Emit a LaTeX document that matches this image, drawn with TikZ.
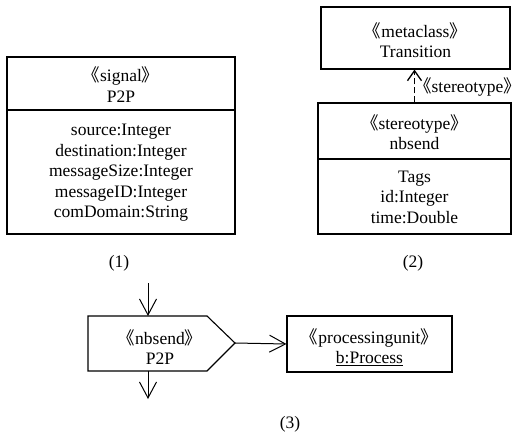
\documentclass[tikz,border=0pt]{standalone}
\usepackage{fontspec}
\setmainfont{Liberation Serif}
\newfontfamily\cjk{Noto Sans CJK SC}
\usetikzlibrary{arrows.meta}
\newcommand{\myopen}{{\cjk 《}}
\newcommand{\myclose}{{\cjk 》}}
\begin{document}
\begin{tikzpicture}[x=1pt,y=-1pt,
  font=\fontsize{17.5}{20.5}\selectfont,
  line width=1pt,
  box/.style={draw, line width=1.1pt, inner sep=0pt},
  txt/.style={inner sep=0pt, align=center},
  arr/.style={-{Straight Barb[length=16pt,width=17pt]}},
  dasharr/.style={-{Straight Barb[length=10pt,width=14pt]}, line width=1.3pt, dash pattern=on 6pt off 3pt}]
\useasboundingbox (0,0) rectangle (522,436);
% (1) signal
\node[box, minimum width=228pt, minimum height=177pt] (sig) at (121,145.5) {};
\draw[line width=1.1pt] (7,110) -- (235,110);
\node[txt] (sigh) at (121,84.5) {\myopen signal\myclose\\P2P};
\node[txt] (sigb) at (121,173) {source:Integer\\destination:Integer\\messageSize:Integer\\messageID:Integer\\comDomain:String};
\node[txt] (l1) at (119,263) {(1)};
% (2) stereotype
\node[box, minimum width=189pt, minimum height=62pt] (meta) at (415.5,38) {};
\node[txt] (metat) at (415.5,40) {\myopen metaclass\myclose\\Transition};
\node[box, minimum width=193pt, minimum height=131pt] (st) at (414.5,168.5) {};
\draw[line width=1.1pt] (318,159) -- (511,159);
\node[txt] (sth) at (414.5,132) {\myopen stereotype\myclose\\nbsend};
\node[txt] (stb) at (414.5,197) {Tags\\id:Integer\\time:Double};
\draw[dasharr] (st.north) -- (st.north |- meta.south);
\node[txt, anchor=east] (stl) at (521.5,87) {\myopen stereotype\myclose};
\node[txt] (l2) at (413,263) {(2)};
% (3) send signal
\coordinate (sigtop) at (148,316);
\coordinate (sigbot) at (148,371);
\coordinate (tip) at (235,343);
\coordinate (instart) at (148,283);
\coordinate (outend) at (148,399);
\draw[line width=1.1pt] (88,316) -- (207,316) -- (tip) -- (207,371) -- (88,371) -- cycle;
\node[txt] (snd) at (160,347) {\myopen nbsend\myclose\\P2P};
\node[box, minimum width=165pt, minimum height=56pt] (pu) at (369.5,344) {};
\node[txt] (put) at (369.5,347) {\myopen processingunit\myclose\\\underline{b:Process}};
\draw[arr] (instart) -- (sigtop);
\draw[arr] (sigbot) -- (outend);
\draw[arr] (tip) -- (pu.west);
\node[txt] (l3) at (290,424) {(3)};
\end{tikzpicture}
\end{document}
